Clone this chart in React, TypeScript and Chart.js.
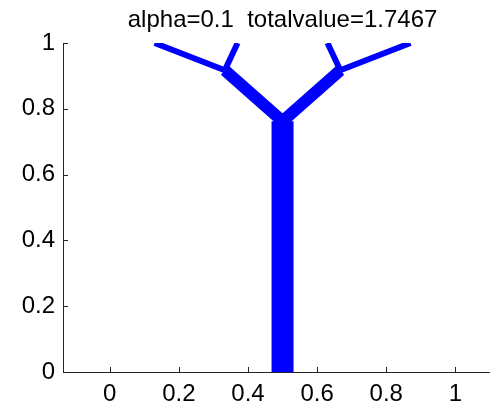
import React, { useEffect, useRef } from "react";
import { Chart, registerables } from "chart.js";

Chart.register(...registerables);

// Tree edges: start node, end node, and relative flow carried by each edge
const edgeNames = ["trunk", "leftFork", "rightFork", "leftOuter", "leftInner", "rightInner", "rightOuter"];
const startX = [0.5, 0.5, 0.5, 0.333, 0.333, 0.667, 0.667];
const startY = [0, 0.762, 0.762, 0.917, 0.917, 0.917, 0.917];
const endX = [0.5, 0.333, 0.667, 0.13, 0.37, 0.63, 0.87];
const endY = [0.762, 0.917, 0.917, 1.0, 1.0, 1.0, 1.0];
const flows = [1.0, 0.54, 0.54, 0.27, 0.27, 0.27, 0.27];

const xTicks = [0, 0.2, 0.4, 0.6, 0.8, 1];
const yTicks = [0, 0.2, 0.4, 0.6, 0.8, 1];
const titleText = "alpha=0.1  totalvalue=1.7467";

const FONT = "'Liberation Sans', Arial, Helvetica, sans-serif";
const BLUE = "#0000ff";
const AXIS = "#262626";

export default function App() {
  const ref = useRef<HTMLCanvasElement | null>(null);

  useEffect(() => {
    if (!ref.current) return;
    const datasets = edgeNames.map((name, i) => ({
      label: name,
      data: [
        { x: startX[i], y: startY[i] },
        { x: endX[i], y: endY[i] },
      ],
      showLine: true,
      borderColor: BLUE,
      backgroundColor: BLUE,
      borderWidth: flows[i] * 22,
      borderCapStyle: "butt" as const,
      pointRadius: 0,
      pointHoverRadius: 0,
      fill: false,
      tension: 0,
    }));

    const innerTicks = {
      id: "innerTicks",
      afterDraw(chart: any) {
        const ctx = chart.ctx;
        const xs = chart.scales.x;
        const ys = chart.scales.y;
        const area = chart.chartArea;
        ctx.save();
        ctx.strokeStyle = AXIS;
        ctx.lineWidth = 1;
        ctx.beginPath();
        for (const v of xTicks) {
          const px = Math.round(xs.getPixelForValue(v)) + 0.5;
          ctx.moveTo(px, area.bottom);
          ctx.lineTo(px, area.bottom - 5);
        }
        for (const v of yTicks) {
          const py = Math.round(ys.getPixelForValue(v)) + 0.5;
          ctx.moveTo(area.left, py);
          ctx.lineTo(area.left + 5, py);
        }
        ctx.stroke();
        // title centered over the plot's x = 0.5
        ctx.fillStyle = "#000";
        ctx.font = `24px ${FONT}`;
        ctx.textAlign = "center";
        ctx.textBaseline = "alphabetic";
        ctx.fillText(titleText, xs.getPixelForValue(0.5), 27);
        ctx.restore();
      },
    };

    const chart = new Chart(ref.current, {
      type: "scatter",
      data: { datasets },
      options: {
        animation: false,
        responsive: false,
        maintainAspectRatio: false,
        layout: { padding: { top: 43, right: 0, bottom: 0, left: 0 } },
        plugins: {
          legend: { display: false },
          tooltip: { enabled: false },
          title: { display: false },
        },
        events: [],
        scales: {
          x: {
            type: "linear",
            min: -0.135,
            max: 1.1,
            grid: { display: false, drawTicks: false },
            border: { display: true, color: AXIS, width: 1 },
            ticks: {
              color: "#000",
              font: { family: FONT, size: 24 },
              padding: 8,
              maxRotation: 0,
              autoSkip: false,
              callback: (v: any) => String(Math.round(Number(v) * 10) / 10),
            },
            afterBuildTicks: (s: any) => {
              s.ticks = xTicks.map((v) => ({ value: v }));
            },
            afterFit: (s: any) => {
              s.height = 34;
            },
          },
          y: {
            type: "linear",
            min: 0,
            max: 1,
            grid: { display: false, drawTicks: false },
            border: { display: true, color: AXIS, width: 1 },
            ticks: {
              color: "#000",
              font: { family: FONT, size: 24 },
              padding: 8,
              autoSkip: false,
              callback: (v: any) => String(Math.round(Number(v) * 10) / 10),
            },
            afterBuildTicks: (s: any) => {
              s.ticks = yTicks.map((v) => ({ value: v }));
            },
            afterFit: (s: any) => {
              s.width = 63;
            },
          },
        },
      },
      plugins: [innerTicks],
    });
    return () => chart.destroy();
  }, []);

  return (
    <div style={{ position: "absolute", left: 0, top: 0, width: 490, height: 406, background: "#fff" }}>
      <canvas ref={ref} width={490} height={406} style={{ display: "block", width: 490, height: 406 }} />
    </div>
  );
}
